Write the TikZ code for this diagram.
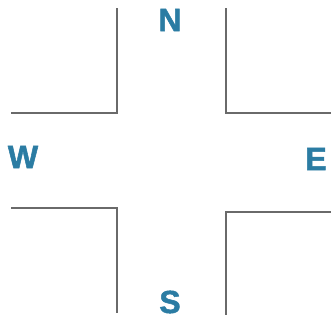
\documentclass[tikz,border=0pt]{standalone}
\usepackage{fontspec}
\setmainfont{Liberation Sans}
\newfontface\heavyface{Liberation Sans Bold}[FakeBold=1.6]
\definecolor{dirblue}{HTML}{2B7CA3}
\definecolor{kerb}{HTML}{6A6A6A}
\begin{document}
\begin{tikzpicture}[x=1pt,y=-1pt,
  kerbline/.style={draw=kerb,line width=1.3pt},
  dirlabel/.style={text=dirblue,font=\fontsize{32}{32}\selectfont\heavyface,inner sep=0pt,anchor=center}]
\useasboundingbox (0,0) rectangle (331,322);
% corners
\coordinate (nwTop) at (117,8);
\coordinate (nwCorner) at (117,113);
\coordinate (nwEnd) at (11,113);
\coordinate (neTop) at (226,8);
\coordinate (neCorner) at (226,113);
\coordinate (neEnd) at (331,113);
\coordinate (swEnd) at (11,208);
\coordinate (swCorner) at (117,208);
\coordinate (swBot) at (117,313);
\coordinate (seEnd) at (331,212);
\coordinate (seCorner) at (226,212);
\coordinate (seBot) at (226,315);
\draw[kerbline] (nwTop) -- (nwCorner) -- (nwEnd);
\draw[kerbline] (neTop) -- (neCorner) -- (neEnd);
\draw[kerbline] (swEnd) -- (swCorner) -- (swBot);
\draw[kerbline] (seEnd) -- (seCorner) -- (seBot);
% labels
\node[dirlabel] (north) at (170,20) {N};
\node[dirlabel] (west) at (23,157) {W};
\node[dirlabel] (east) at (316,159) {E};
\node[dirlabel] (south) at (170,302) {S};
\end{tikzpicture}
\end{document}
